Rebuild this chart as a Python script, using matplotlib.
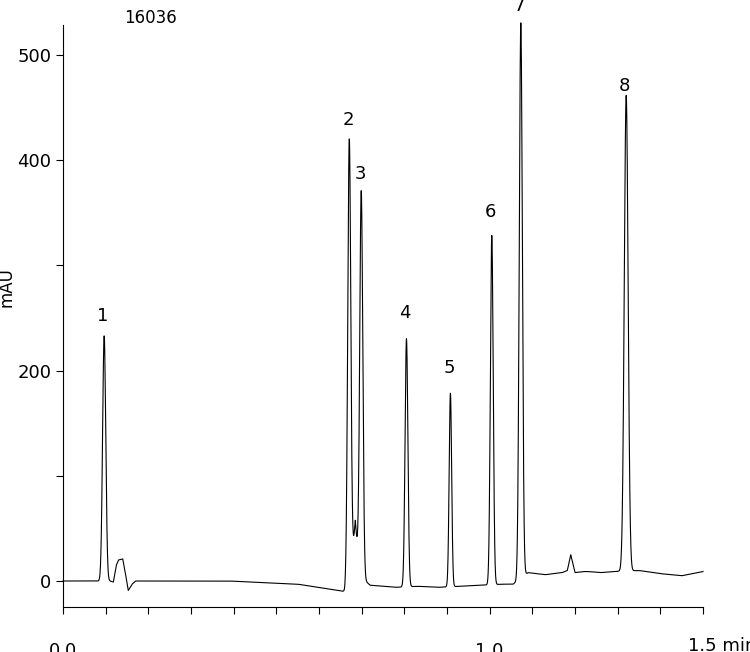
import matplotlib.pyplot as plt
import numpy as np

# peak table: number, retention time (min), height (mAU), width (sigma, min)
peak_ids = ["1", "2", "3", "4", "5", "6", "7", "8"]
peak_times = [0.0965, 0.671, 0.699, 0.805, 0.908, 1.005, 1.073, 1.320]
peak_heights = [233, 420, 368, 236, 184, 332, 528, 452]
peak_widths = [0.0037, 0.0036, 0.0036, 0.0033, 0.0029, 0.0033, 0.0036, 0.0045]

# baseline (min, mAU)
base_t = [0.0, 0.08, 0.11, 0.118, 0.125, 0.13, 0.14, 0.146, 0.153, 0.162, 0.17, 0.2,
          0.39, 0.55, 0.66, 0.676, 0.685, 0.694, 0.72, 0.78, 0.83, 0.88, 0.93, 0.98,
          1.03, 1.055, 1.09, 1.13, 1.17, 1.182, 1.19, 1.20, 1.22, 1.23, 1.26, 1.29,
          1.35, 1.40, 1.45, 1.50]
base_v = [0.0, 0.0, 0.0, -1, 15, 20, 21, 8, -9, -3, 0.0, 0.0,
          0.0, -3, -10, 5, 58, 5, -4, -6, -5, -6, -5, -4,
          -3, -3, 8, 6, 8, 10, 25, 8, 9, 9, 8, 9,
          10, 7, 5, 9]

t = np.linspace(0, 1.5, 6000)
signal = np.interp(t, base_t, base_v)
for rt, h, w in zip(peak_times, peak_heights, peak_widths):
    signal += h * np.exp(-0.5 * ((t - rt) / w) ** 2)

fig = plt.figure(figsize=(7.5, 6.52), dpi=100)
ax = fig.add_axes([63 / 750, 1 - 607 / 652, 640 / 750, 582 / 652])
ax.plot(t, signal, color="black", linewidth=0.8, clip_on=False)

ax.set_xlim(0, 1.5)
ax.set_ylim(-24.7, 528.5)
for side in ["top", "right"]:
    ax.spines[side].set_visible(False)
ax.spines["left"].set_linewidth(0.8)
ax.spines["bottom"].set_linewidth(0.8)

xt = np.arange(0, 1.51, 0.1)
ax.set_xticks(xt)
ax.set_xticklabels(["0.0" if abs(x) < 1e-9 else "1.0" if abs(x - 1) < 1e-9 else "" for x in xt])
ax.set_yticks([0, 100, 200, 300, 400, 500])
ax.set_yticklabels(["0", "", "200", "", "400", "500"])
ax.tick_params(axis="both", direction="out", length=5, width=0.8, labelsize=13)
ax.tick_params(axis="x", pad=20)
ax.set_ylabel("mAU", fontsize=12, labelpad=4)
ax.yaxis.set_label_coords(-0.075, 0.55)
fig.text(688 / 750, 1 - 646 / 652, "1.5 min", fontsize=13, ha="left", va="center")

for lab, rt, h in zip(peak_ids, peak_times, peak_heights):
    ax.text(rt - 0.003, h + 10, lab, ha="center", va="bottom", fontsize=13)

fig.text(150 / 750, 1 - 18 / 652, "16036", fontsize=12, ha="center", va="center")

fig.savefig("out.png", dpi=100)
